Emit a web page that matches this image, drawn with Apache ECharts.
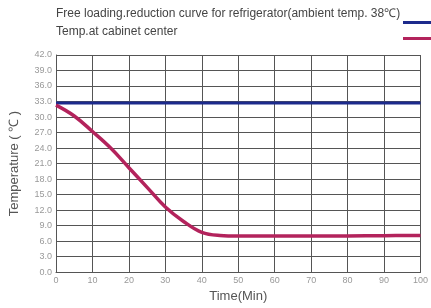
<!DOCTYPE html>
<html>
<head>
<meta charset="utf-8">
<script src="https://cdn.jsdelivr.net/npm/echarts@6/dist/echarts.min.js"></script>
<style>
html, body { margin: 0; padding: 0; background: #fff; }
#chart { width: 431px; height: 308px; }
</style>
</head>
<body>
<div id="chart"></div>
<script>
var seriesNames = ['Free loading.reduction curve for refrigerator(ambient temp. 38\u2103)', 'Temp.at cabinet center'];
var seriesColors = ['#1c2a8c', '#b3235c'];
var ambientTemp = [[0, 32.7], [100, 32.7]];
var cabinetTime = [0, 5, 10, 15, 20, 25, 30, 35, 40, 45, 50, 60, 70, 80, 90, 100];
var cabinetTemp = [32.3, 30.2, 27.2, 24.0, 20.2, 16.4, 12.6, 9.8, 7.7, 7.1, 7.0, 7.0, 7.0, 7.0, 7.05, 7.1];

var chart = echarts.init(document.getElementById('chart'));

// legend drawn by hand: text on the left, swatch at the right edge
var legendGraphic = [];
seriesNames.forEach(function (name, i) {
  legendGraphic.push({
    type: 'text', left: 56, top: 8 + i * 18,
    style: { text: name, fontFamily: 'Liberation Sans', fontSize: 12, fill: '#444' }
  });
  legendGraphic.push({
    type: 'rect', left: 403, top: 21 + i * 16,
    shape: { width: 28, height: 3 },
    style: { fill: seriesColors[i] }
  });
});

var option = {
  animation: false,
  graphic: legendGraphic,
  grid: { left: 56, right: 3, top: 55, bottom: 35 },
  xAxis: {
    type: 'value',
    min: 0, max: 100, interval: 10,
    name: 'Time(Min)',
    nameLocation: 'middle',
    nameGap: 17,
    nameTextStyle: { fontFamily: 'Liberation Sans', fontSize: 13, color: '#555' },
    axisLine: { lineStyle: { color: '#555' } },
    axisTick: { show: false },
    axisLabel: { fontFamily: 'Liberation Sans', fontSize: 9, color: '#999', margin: 4 },
    splitLine: { show: true, lineStyle: { color: '#555', width: 1 } }
  },
  yAxis: {
    type: 'value',
    min: 0, max: 42, interval: 3,
    name: 'Temperature ( \u2103 )',
    nameLocation: 'middle',
    nameGap: 35,
    nameTextStyle: { fontFamily: 'Liberation Sans', fontSize: 13, color: '#555' },
    axisLine: { show: true, lineStyle: { color: '#555' } },
    axisTick: { show: false },
    axisLabel: { fontFamily: 'Liberation Sans', fontSize: 9, color: '#999', margin: 4,
      formatter: function (v) { return v.toFixed(1); } },
    splitLine: { show: true, lineStyle: { color: '#555', width: 1 } }
  },
  series: [
    {
      name: seriesNames[0],
      type: 'line',
      data: ambientTemp,
      symbol: 'none',
      lineStyle: { color: seriesColors[0], width: 3 }
    },
    {
      name: seriesNames[1],
      type: 'line',
      data: cabinetTime.map(function (t, i) { return [t, cabinetTemp[i]]; }),
      symbol: 'none',
      smooth: 0.4,
      lineStyle: { color: seriesColors[1], width: 3.5 }
    }
  ]
};
chart.setOption(option);
</script>
</body>
</html>
